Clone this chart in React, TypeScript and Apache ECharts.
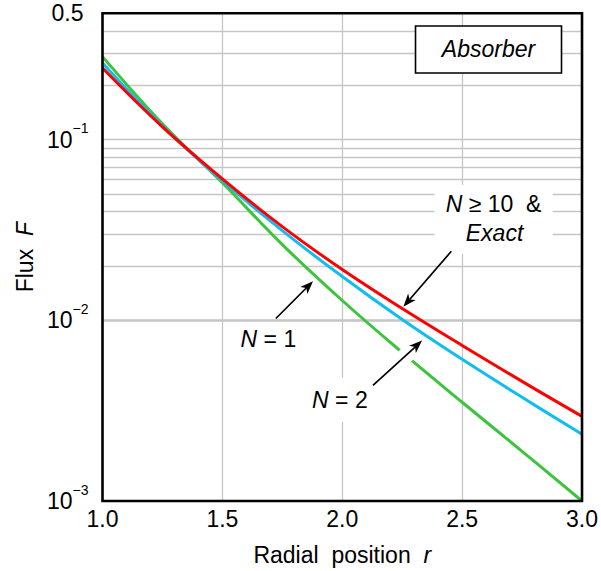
import React, { useEffect, useRef } from "react";
import * as echarts from "echarts";

// ---- data ----
const R = [1.0, 1.25, 1.5, 1.75, 2.0, 2.25, 2.5, 2.75, 3.0];
const EXACT = [0.249, 0.1177, 0.0607, 0.033, 0.0191, 0.01162, 0.00726, 0.00459, 0.00294];
const N2 = [0.2657, 0.1192, 0.0592, 0.03135, 0.01746, 0.0101, 0.00608, 0.00375, 0.00234];
const N1 = [0.2878, 0.1223, 0.0577, 0.02623, 0.01287, 0.00664, 0.00352, 0.001884, 0.001];

const X_MIN = 1.0;
const X_MAX = 3.0;
const X_STEP = 0.5;
const Y_MIN = 0.001;
const Y_MAX = 0.5;
const Y_GRID = [
  0.002, 0.003, 0.004, 0.005, 0.006, 0.007, 0.008, 0.009, 0.01,
  0.02, 0.03, 0.04, 0.05, 0.06, 0.07, 0.08, 0.09, 0.1,
  0.2, 0.3, 0.4,
];

// annotation anchors (data coordinates)
const ABSORBER_AT = [2.61, 0.3155];
const EXACT_LABEL_AT = [2.631, 0.0363];
const N1_LABEL_AT = [1.692, 0.00783];
const N2_LABEL_AT = [1.99, 0.00363];
const ARROW_EXACT = [[2.455, 0.0241], [2.255, 0.0119]];
const ARROW_N1 = [[1.723, 0.01023], [1.878, 0.01644]];
const ARROW_N2 = [[2.128, 0.004365], [2.333, 0.00772]];

const FONT = '"Liberation Sans", Arial, Helvetica, sans-serif';
const RED = "#ff0000";
const BLUE = "#10bdf0";
const GREEN = "#3cc43c";
const GRID = "#c6c6c6";

export default function App() {
  const ref = useRef<HTMLDivElement>(null);
  useEffect(() => {
    const chart = echarts.init(ref.current!, null, { renderer: "svg" });
    const toPts = (ys: number[]) => R.map((r, i) => [r, ys[i]]);
    const lineSeries = (name: string, ys: number[], color: string, z: number) => ({
      name,
      type: "line",
      data: toPts(ys),
      smooth: 0.4,
      symbol: "none",
      showSymbol: false,
      lineStyle: { color, width: 3 },
      z,
    });
    chart.setOption({
      animation: false,
      backgroundColor: "#ffffff",
      textStyle: { fontFamily: FONT },
      grid: { left: 102.5, top: 13.3, right: 18.5, bottom: 69.3, show: false },
      xAxis: {
        type: "value",
        min: X_MIN,
        max: X_MAX,
        interval: X_STEP,
        name: "Radial  position  {i|r}",
        nameLocation: "middle",
        nameGap: 42,
        nameTextStyle: {
          fontSize: 23,
          fontFamily: FONT,
          color: "#000",
          rich: { i: { fontSize: 23, fontFamily: FONT, fontStyle: "italic", color: "#000" } },
        },
        axisLine: { show: false },
        axisTick: { show: false },
        axisLabel: {
          fontSize: 23,
          fontFamily: FONT,
          color: "#000",
          margin: 6,
          formatter: (v: number) => v.toFixed(1),
        },
        splitLine: {
          show: true,
          showMinLine: false,
          showMaxLine: false,
          lineStyle: { color: GRID, width: 1.3 },
        },
      },
      yAxis: {
        type: "log",
        logBase: 10,
        min: Y_MIN,
        max: Y_MAX,
        name: "Flux  {i|F}",
        nameLocation: "middle",
        nameGap: 66,
        nameTextStyle: {
          fontSize: 23,
          fontFamily: FONT,
          color: "#000",
          rich: { i: { fontSize: 23, fontFamily: FONT, fontStyle: "italic", color: "#000" } },
        },
        axisLine: { show: false },
        axisTick: { show: false },
        splitLine: { show: false },
        axisLabel: {
          margin: 14,
          showMaxLabel: true,
          showMinLabel: true,
          formatter: (v: number) => {
            if (Math.abs(v - 0.5) < 1e-6) return "{n|0.5}";
            const e = Math.round(Math.log10(v));
            return "{b|10}{s|\u2212" + -e + "}";
          },
          rich: {
            n: { fontSize: 23, fontFamily: FONT, color: "#000", padding: [0, 5, 0, 0] },
            b: { fontSize: 23, fontFamily: FONT, color: "#000", lineHeight: 23, verticalAlign: "bottom" },
            s: {
              fontSize: 14,
              fontFamily: FONT,
              color: "#000",
              lineHeight: 14,
              padding: [0, 0, 16, 0],
              verticalAlign: "bottom",
            },
          },
        },
      },
      series: [
        {
          type: "line",
          data: [[2, 0.01]],
          symbol: "none",
          showSymbol: false,
          lineStyle: { opacity: 0 },
          silent: true,
          z: 1,
          markLine: {
            silent: true,
            symbol: "none",
            z: 1,
            label: { show: false },
            lineStyle: { color: GRID, width: 1.3, type: "solid" },
            data: Y_GRID.map((v) => ({ yAxis: v })),
          },
        },
        lineSeries("N = 1", N1, GREEN, 2),
        lineSeries("N = 2", N2, BLUE, 4),
        lineSeries("N ≥ 10 & Exact", EXACT, RED, 5),
      ],
    });

    const px = (p: number[]) => chart.convertToPixel({ gridIndex: 0 }, p) as number[];
    const els: any[] = [];

    const arrow = (seg: number[][], z: number, halo: boolean) => {
      const [x1, y1] = px(seg[0]);
      const [x2, y2] = px(seg[1]);
      const dx = x2 - x1;
      const dy = y2 - y1;
      const L = Math.hypot(dx, dy);
      const ux = dx / L;
      const uy = dy / L;
      const nx = -uy;
      const ny = ux;
      const hl = 13;
      const hw = 5;
      const notch = 3.5;
      const bx = x2 - ux * hl;
      const by = y2 - uy * hl;
      if (halo) {
        els.push({
          type: "line",
          z: 3,
          shape: { x1: x1 + dx * 0.45, y1: y1 + dy * 0.45, x2: x2 - ux * 4, y2: y2 - uy * 4 },
          style: { stroke: "#ffffff", lineWidth: 16, lineCap: "round" },
        });
      }
      els.push({
        type: "line",
        z,
        shape: { x1, y1, x2: x2 - ux * (hl - notch), y2: y2 - uy * (hl - notch) },
        style: { stroke: "#000", lineWidth: 1.7 },
      });
      els.push({
        type: "polygon",
        z,
        shape: {
          points: [
            [x2, y2],
            [bx + nx * hw, by + ny * hw],
            [x2 - ux * (hl - notch), y2 - uy * (hl - notch)],
            [bx - nx * hw, by - ny * hw],
          ],
        },
        style: { fill: "#000" },
      });
    };

    const box = (at: number[], w: number, h: number, stroke: boolean) => {
      const [cx, cy] = px(at);
      els.push({
        type: "rect",
        z: 8,
        shape: { x: cx - w / 2, y: cy - h / 2, width: w, height: h },
        style: stroke ? { fill: "#fff", stroke: "#000", lineWidth: 1.6 } : { fill: "#fff" },
      });
      return [cx, cy];
    };
    const text = (x: number, y: number, t: string) => {
      els.push({
        type: "text",
        z: 12,
        x,
        y,
        style: {
          text: t,
          align: "center",
          verticalAlign: "middle",
          fill: "#000",
          fontSize: 23,
          fontFamily: FONT,
          rich: {
            i: { fontSize: 23, fontFamily: FONT, fontStyle: "italic", fill: "#000" },
            n: { fontSize: 23, fontFamily: FONT, fill: "#000" },
          },
        },
      });
    };

    {
      const [cx, cy] = box(ABSORBER_AT, 146, 47, true);
      text(cx, cy, "{i|Absorber}");
    }
    {
      const [cx, cy] = box(EXACT_LABEL_AT, 118, 69, false);
      text(cx, cy - 15, "{i|N}{n| \u2265 10  &}");
      text(cx + 1, cy + 14, "{i|Exact}");
    }
    {
      const [cx, cy] = box(N1_LABEL_AT, 68, 32, false);
      text(cx, cy, "{i|N}{n| = 1}");
    }
    {
      const [cx, cy] = box(N2_LABEL_AT, 70, 44, false);
      text(cx, cy, "{i|N}{n| = 2}");
    }

    arrow(ARROW_EXACT, 10, false);
    arrow(ARROW_N1, 10, false);
    arrow(ARROW_N2, 10, true);

    const [fx0, fy0] = px([X_MIN, Y_MAX]);
    const [fx1, fy1] = px([X_MAX, Y_MIN]);
    els.push({
      type: "rect",
      z: 20,
      silent: true,
      shape: { x: fx0, y: fy0, width: fx1 - fx0, height: fy1 - fy0 },
      style: { fill: "none", stroke: "#000", lineWidth: 2.6 },
    });

    chart.setOption({ graphic: { elements: els } });
    return () => chart.dispose();
  }, []);
  return (
    <div
      ref={ref}
      style={{ position: "fixed", left: 0, top: 0, width: 601, height: 571, background: "#fff" }}
    />
  );
}
